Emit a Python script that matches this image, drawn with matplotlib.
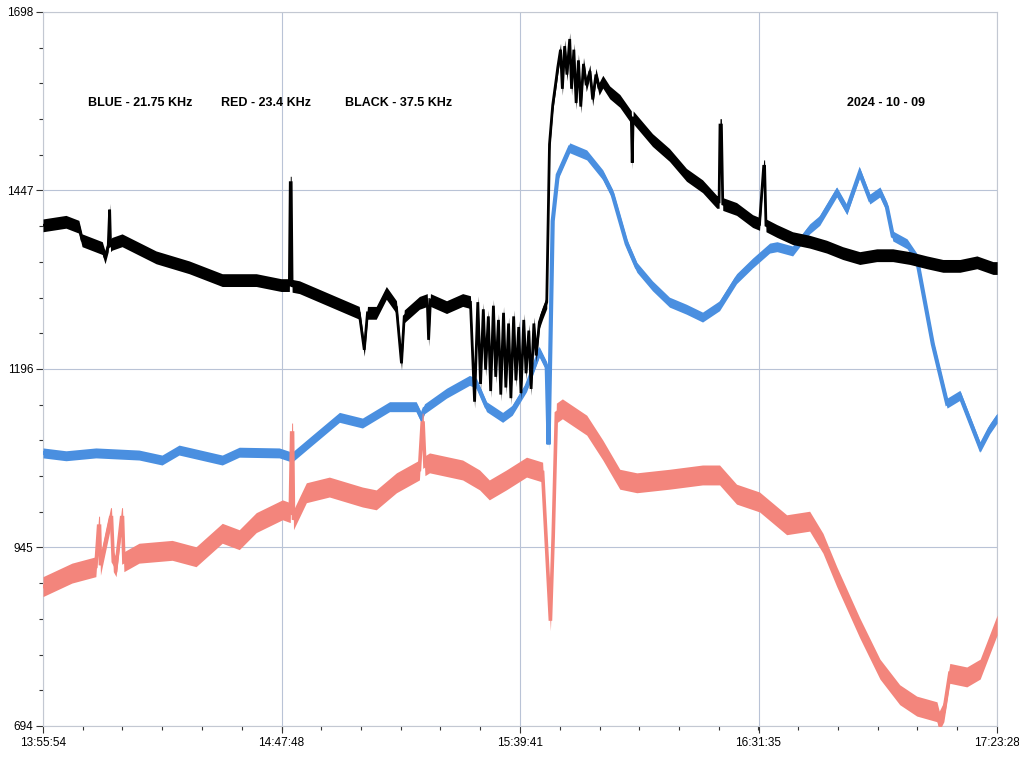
import numpy as np
import matplotlib
matplotlib.use("Agg")
import matplotlib.pyplot as plt
from matplotlib.ticker import FixedLocator

plt.rcParams['font.family'] = ['Liberation Sans', 'DejaVu Sans']

# time axis labels (clock) and y labels
x_labels = ["13:55:54", "14:47:48", "15:39:41", "16:31:35", "17:23:28"]
y_ticks = [694, 945, 1196, 1447, 1698]

# minutes after 13:55:54
bk_t = [0, 5.0, 7.8, 8.5, 12.9, 13.5, 14.2, 14.5, 14.7, 15.0, 17.2, 24.6, 31.8, 39.0, 46.4,
        51.8, 53.6, 53.8, 54.0, 54.2, 55.8, 62.3, 68.8, 69.9, 70.6, 72.5, 74.7, 76.9, 78.0,
        78.6, 81.9, 83.6, 83.9, 84.3, 87.8, 91.3, 93.0,
        93.9, 94.6, 95.2, 95.8, 96.3, 96.9, 97.4, 98.0, 98.5, 99.1, 99.6, 100.2, 100.7,
        101.3, 101.8, 102.4, 102.9, 103.5, 104.0, 104.6, 105.1, 105.7, 106.2, 106.8, 107.3,
        108.0, 108.7, 109.6, 110.2, 110.9, 111.7,
        112.0, 112.6, 113.0, 113.5, 114.0, 114.6, 115.0, 115.5, 116.0, 116.5, 117.0, 117.6,
        118.2, 119.0, 119.6, 120.3, 121.0, 121.8, 123.3, 125.5, 128.0, 128.2, 128.4, 132.6,
        136.3, 140.0, 143.5, 146.6, 147.1, 147.3, 147.6, 147.9, 150.9, 154.4, 155.9, 156.8,
        157.0, 157.3, 159.7, 163.1, 166.8, 170.5, 174.0, 177.7, 181.4, 184.9, 188.6, 192.3,
        195.8, 199.5, 203.2, 206.7, 207.6]
bk_v = [1398, 1403, 1396, 1377, 1366, 1353, 1370, 1420, 1370, 1372, 1377, 1353, 1339, 1321, 1321,
        1314, 1314, 1458, 1458, 1313, 1311, 1293, 1275, 1223, 1275, 1275, 1303, 1283, 1204,
        1270, 1289, 1293, 1237, 1293, 1283, 1293, 1290,
        1150, 1290, 1175, 1280, 1195, 1270, 1165, 1285, 1185, 1265, 1160, 1275, 1170,
        1260, 1155, 1270, 1180, 1255, 1162, 1265, 1190, 1250, 1168, 1260, 1215,
        1262, 1275, 1290, 1512, 1567, 1605,
        1620, 1645, 1590, 1650, 1610, 1660, 1590, 1645, 1570, 1630, 1565, 1625,
        1595, 1615, 1575, 1610, 1590, 1600, 1585, 1573, 1550, 1486, 1550, 1518,
        1497, 1469, 1453, 1431, 1431, 1539, 1539, 1428, 1421, 1404, 1400, 1481,
        1481, 1398, 1390, 1380, 1375, 1368, 1359, 1352, 1356, 1356, 1352, 1346,
        1341, 1341, 1346, 1338, 1338]

bl_t = [0, 5.0, 11.5, 20.9, 25.9, 29.6, 39.0, 42.7, 51.4, 54.2, 58.6, 64.5, 69.5, 75.4, 81.2,
        82.3, 83.0, 87.8, 92.8, 94.3, 96.5, 100.0, 102.1, 105.2, 108.0, 109.6, 110.0, 110.9,
        112.0, 114.6, 118.3, 121.8, 123.9, 127.0, 129.2, 132.6, 136.3, 140.0, 143.5, 147.2,
        150.9, 154.4, 158.1, 159.7, 163.1, 166.8, 169.0, 172.7, 174.9, 177.7, 179.9, 182.1,
        183.6, 184.9, 188.0, 190.1, 193.6, 196.7, 199.5, 203.9, 206.0, 207.6]
bl_v = [1078, 1074, 1078, 1075, 1068, 1082, 1068, 1079, 1078, 1072, 1096, 1128, 1120, 1143, 1143,
        1128, 1140, 1162, 1180, 1176, 1143, 1128, 1138, 1171, 1220, 1199, 1090, 1404,
        1469, 1507, 1497, 1469, 1442, 1372, 1339, 1313, 1290, 1280, 1269, 1285,
        1323, 1345, 1366, 1368, 1362, 1393, 1405, 1445, 1420, 1472, 1435, 1445,
        1424, 1383, 1372, 1352, 1231, 1148, 1159, 1086, 1112, 1127]

rd_t = [0, 6.3, 11.5, 12.1, 12.3, 12.5, 14.7, 14.9, 15.3, 15.9, 17.1, 17.3, 17.6, 20.9, 28.1,
        33.3, 39.0, 42.7, 46.4, 52.1, 53.8, 54.1, 54.3, 54.5, 57.3, 62.3, 69.5, 72.5, 76.9,
        81.9, 82.5, 82.7, 83.1, 84.1, 91.3, 95.0, 97.1, 100.8, 105.2, 108.7, 110.4, 111.0,
        111.7, 113.0, 118.3, 121.8, 125.5, 129.2, 136.3, 143.5, 147.2, 150.9, 155.9, 161.8,
        166.8, 169.7, 172.7, 177.7, 182.1, 186.4, 190.1, 194.5, 195.0, 196.0, 197.3, 201.0,
        203.9, 207.6]
rd_v = [890, 909, 918, 975, 975, 920, 987, 987, 925, 918, 987, 987, 925, 937, 941,
        932, 965, 956, 980, 998, 994, 1106, 1106, 984, 1022, 1030, 1016, 1012, 1036,
        1054, 1120, 1120, 1060, 1064, 1054, 1040, 1026, 1040, 1058, 1051, 842, 960,
        1134, 1140, 1117, 1082, 1041, 1036, 1041, 1047, 1047, 1020, 1009, 977,
        982, 951, 904, 832, 774, 738, 722, 714, 701, 714, 768, 763,
        774, 836]


def to_min(s):
    h, m, sec = [int(p) for p in s.split(":")]
    return (h * 3600 + m * 60 + sec - (13 * 3600 + 55 * 60 + 54)) / 60.0


x_pos = [to_min(s) for s in x_labels]

fig = plt.figure(figsize=(10.2, 7.58), dpi=100)
ax = fig.add_axes([43 / 1020, 1 - 726 / 758, 954 / 1020, 714 / 758])

# colour, band half-width (data units) and line width
series = [(bl_t, bl_v, '#4a8fe0', 7, 3.0), (rd_t, rd_v, '#f3857c', 14, 2.6),
          (bk_t, bk_v, '#000000', 9, 2.0)]
for t, v, c, w, lw in series:
    t = np.array(t)
    v = np.array(v)
    ax.fill_between(t, v - w, v + w, color=c, lw=0, zorder=3)
    ax.plot(t, v, color=c, lw=lw, zorder=3, solid_joinstyle='miter')

ax.set_xlim(x_pos[0], x_pos[-1])
ax.set_ylim(694, 1698)
ax.set_xticks(x_pos)
ax.set_xticklabels(x_labels)
ax.set_yticks(y_ticks)
ax.xaxis.set_minor_locator(FixedLocator(np.linspace(x_pos[0], x_pos[-1], 25)))
ax.yaxis.set_minor_locator(FixedLocator(np.linspace(694, 1698, 21)))
ax.tick_params(axis='both', which='major', labelsize=8.5, color='#333333', length=5, width=0.8)
ax.tick_params(axis='both', which='minor', color='#333333', length=3, width=0.8)
ax.tick_params(axis='x', pad=3)
ax.tick_params(axis='y', pad=2)
ax.grid(True, color='#b9c3d6', lw=0.8)
for s in ax.spines.values():
    s.set_color('#c3c8d2')
    s.set_linewidth(0.8)

fig.text(88 / 1020, 1 - 103 / 758, "BLUE - 21.75 KHz", fontsize=9, fontweight='bold', va='center')
fig.text(221 / 1020, 1 - 103 / 758, "RED - 23.4 KHz", fontsize=9, fontweight='bold', va='center')
fig.text(345 / 1020, 1 - 103 / 758, "BLACK - 37.5 KHz", fontsize=9, fontweight='bold', va='center')
fig.text(847 / 1020, 1 - 103 / 758, "2024 - 10 - 09", fontsize=9, fontweight='bold', va='center')

fig.savefig("out.png", dpi=100)
